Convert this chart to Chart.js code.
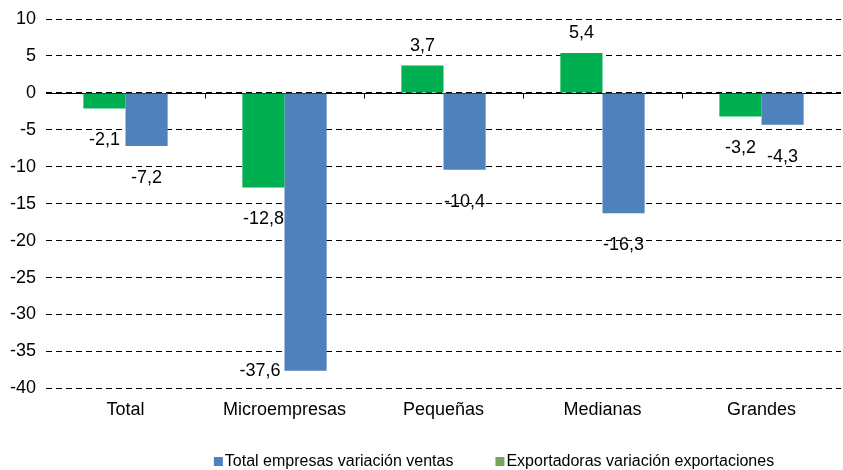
<!DOCTYPE html>
<html>
<head>
<meta charset="utf-8">
<script src="https://cdn.jsdelivr.net/npm/chart.js@4/dist/chart.umd.min.js"></script>
<style>
html, body { margin: 0; padding: 0; background: #fff; }
</style>
</head>
<body>
<canvas id="myCanvas" width="843" height="470"></canvas>
<script>
const categories = ['Total', 'Microempresas', 'Pequeñas', 'Medianas', 'Grandes'];
const exportadoras = [-2.1, -12.8, 3.7, 5.4, -3.2];
const totalEmpresas = [-7.2, -37.6, -10.4, -16.3, -4.3];
const seriesNames = ['Exportadoras variación exportaciones', 'Total empresas variación ventas'];
const yMin = -40;
const yMax = 10;
const yStep = 5;

const FONT = 'Arial, "Liberation Sans", sans-serif';
const GREEN = '#00B050';
const BLUE = '#4F81BD';
const LEGEND_GREEN = '#77A55A';

function fmt(v) {
    return v.toFixed(1).replace('.', ',');
}

// value labels under negative bars, over positive ones
const valueLabels = {
    id: 'valueLabels',
    afterDatasetsDraw(chart) {
        const ctx = chart.ctx;
        const area = chart.chartArea;
        ctx.save();
        ctx.font = '18px ' + FONT;
        ctx.fillStyle = '#000';
        ctx.textBaseline = 'middle';
        chart.data.datasets.forEach((ds, i) => {
            const meta = chart.getDatasetMeta(i);
            meta.data.forEach((bar, j) => {
                const v = ds.data[j];
                let x = bar.x, y;
                ctx.textAlign = 'center';
                if (v >= 0) {
                    y = bar.y - 20;
                } else {
                    y = bar.y + 32;
                    if (y + 8 > area.bottom) {
                        y = bar.y;
                        x = bar.x - bar.width / 2 - 4;
                        ctx.textAlign = 'right';
                    }
                }
                ctx.fillText(fmt(v), x, y);
            });
        });
        ctx.restore();
    }
};

// solid zero line, small ticks, and the legend
const extras = {
    id: 'extras',
    beforeDatasetsDraw(chart) {
        const ctx = chart.ctx;
        const area = chart.chartArea;
        const y0 = Math.round(chart.scales.y.getPixelForValue(0)) + 0.5;
        const xs = chart.scales.x;
        ctx.save();
        ctx.strokeStyle = '#000';
        ctx.lineWidth = 1;
        ctx.beginPath();
        ctx.moveTo(area.left, y0);
        ctx.lineTo(area.right, y0);
        for (let i = 1; i < categories.length; i++) {
            const bx = Math.round((xs.getPixelForValue(i - 1) + xs.getPixelForValue(i)) / 2) + 0.5;
            ctx.moveTo(bx, y0);
            ctx.lineTo(bx, y0 + 5);
        }
        ctx.stroke();
        ctx.restore();
    },
    afterDraw(chart) {
        const ctx = chart.ctx;
        ctx.save();
        ctx.font = '16px ' + FONT;
        ctx.textBaseline = 'middle';
        ctx.textAlign = 'left';
        const items = [
            { text: seriesNames[1], color: BLUE },
            { text: seriesNames[0], color: LEGEND_GREEN }
        ];
        const box = 9, gapBox = 2, gapItem = 42;
        let total = 0;
        items.forEach((it, k) => {
            it.w = ctx.measureText(it.text).width;
            total += box + gapBox + it.w + (k > 0 ? gapItem : 0);
        });
        const cx = 494, cy = 462;
        let x = cx - total / 2;
        items.forEach(it => {
            ctx.fillStyle = it.color;
            ctx.fillRect(x, cy - 5, box, box);
            ctx.fillStyle = '#000';
            ctx.fillText(it.text, x + box + gapBox, cy);
            x += box + gapBox + it.w + gapItem;
        });
        ctx.restore();
    }
};

const ctx = document.getElementById('myCanvas').getContext('2d');

new Chart(ctx, {
    type: 'bar',
    data: {
        labels: categories,
        datasets: [
            { label: seriesNames[0], data: exportadoras, backgroundColor: GREEN },
            { label: seriesNames[1], data: totalEmpresas, backgroundColor: BLUE }
        ]
    },
    options: {
        responsive: false,
        animation: false,
        devicePixelRatio: 1,
        categoryPercentage: 0.53,
        barPercentage: 1,
        layout: { padding: { left: 0, right: 2, top: 0, bottom: 46 } },
        plugins: {
            legend: { display: false },
            tooltip: { enabled: false }
        },
        scales: {
            x: {
                grid: { display: false },
                border: { display: false },
                ticks: { color: '#000', font: { family: FONT, size: 18 }, padding: 3 }
            },
            y: {
                min: yMin,
                max: yMax,
                ticks: { stepSize: yStep, color: '#000', font: { family: FONT, size: 18, lineHeight: 1.0 }, padding: 10 },
                grid: { color: '#000', lineWidth: 1, drawTicks: false },
                border: { display: false, dash: [6, 4] }
            }
        }
    },
    plugins: [extras, valueLabels]
});
</script>
</body>
</html>
